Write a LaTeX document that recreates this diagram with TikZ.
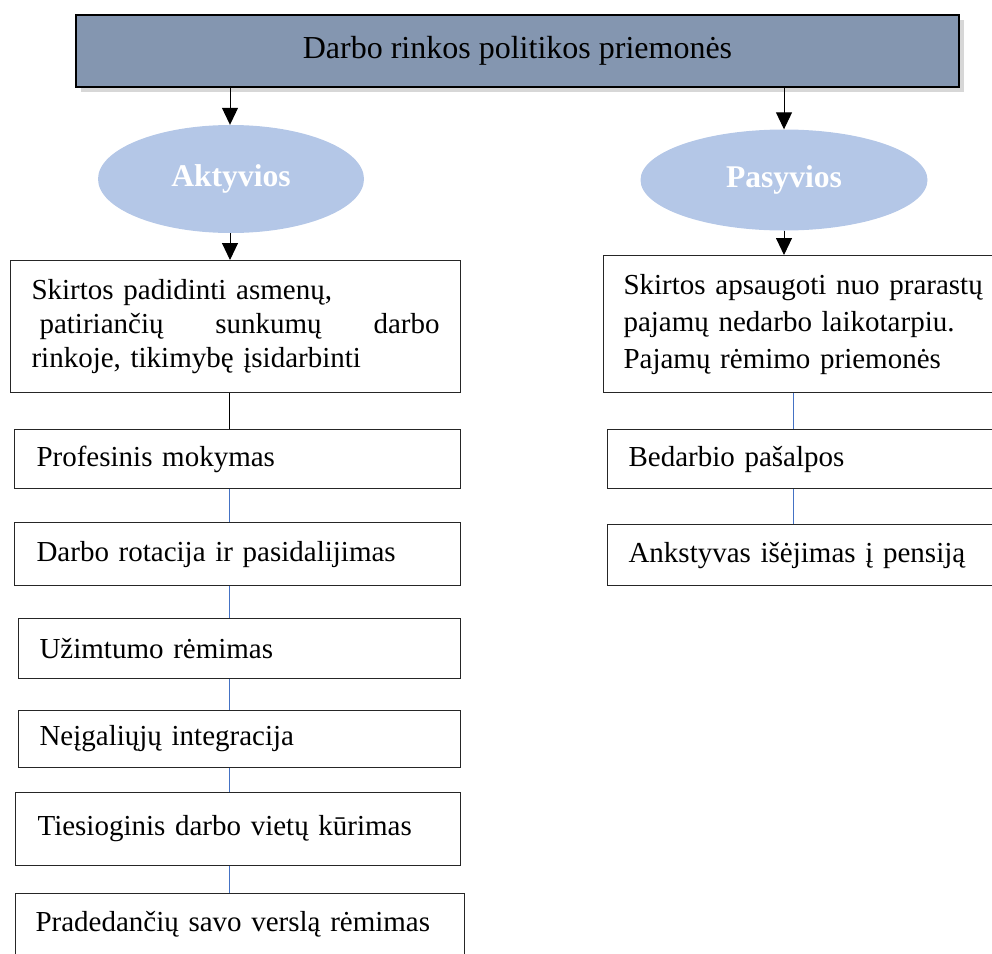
\documentclass[tikz,border=0pt]{standalone}
\usepackage{fontspec}
\setmainfont{Liberation Serif}
\usetikzlibrary{arrows.meta,shapes.geometric,shadows}
\definecolor{topfill}{HTML}{8496B0}
\definecolor{ellfill}{HTML}{B4C7E7}
\definecolor{linkblue}{HTML}{4472C4}
\begin{document}
\begin{tikzpicture}[x=1pt,y=-1pt,
  titlebox/.style={draw=black,line width=1.2pt,fill=topfill,rectangle,
    minimum width=883pt,minimum height=72pt,inner sep=0pt,
    drop shadow={shadow xshift=5pt,shadow yshift=-5pt,fill=black!35,opacity=0.45},
    font=\fontsize{32}{38}\selectfont},
  oval/.style={ellipse,fill=ellfill,draw=none,inner sep=0pt,text=white,
    font=\fontsize{31.6}{36}\selectfont\bfseries},
  item/.style={draw=black!85,line width=1.1pt,rectangle,anchor=north west,
    align=left,inner ysep=0pt,font=\fontsize{29}{34}\selectfont},
  arr/.style={-{Triangle[width=16pt,length=17pt]},line width=1pt,black},
  plain/.style={line width=1pt,black},
  bluelink/.style={line width=1pt,linkblue}]
\useasboundingbox (0,0) rectangle (992,953);

\node[titlebox] (top) at (517.5,51) {Darbo rinkos politikos priemonės};

\node[oval,minimum width=266pt,minimum height=108pt] (akt) at (231,179) {Aktyvios};
\node[oval,minimum width=287pt,minimum height=101pt] (pas) at (784,180) {Pasyvios};

% left column
\node[item,inner xsep=21pt,text width=408pt,minimum height=132pt] (L0) at (10,260)
  {Skirtos padidinti asmenų,\\
   \makebox[408pt][l]{\hspace*{8pt}patiriančių\hfill sunkumų\hfill darbo}\\
   rinkoje, tikimybę įsidarbinti};
\node[item,inner xsep=22pt,text width=402pt,minimum height=59pt] (L1) at (14,429) {Profesinis mokymas};
\node[item,inner xsep=22pt,text width=402pt,minimum height=63pt] (L2) at (14,522) {Darbo rotacija ir pasidalijimas};
\node[item,inner xsep=21pt,text width=400pt,minimum height=60pt] (L3) at (18,618) {Užimtumo rėmimas};
\node[item,inner xsep=21pt,text width=400pt,minimum height=57pt] (L4) at (18,710) {Neįgaliųjų integracija};
\node[item,inner xsep=22pt,text width=401pt,minimum height=73pt] (L5) at (15,792) {Tiesioginis darbo vietų kūrimas};
\node[item,inner xsep=20pt,text width=409pt,minimum height=61pt] (L6) at (15,893) {Pradedančių savo verslą rėmimas};

% right column
\node[item,inner xsep=20pt,text width=380pt,minimum height=137pt,
  font=\fontsize{29}{37}\selectfont] (R0) at (603,255)
  {Skirtos apsaugoti nuo prarastų\\pajamų nedarbo laikotarpiu.\\Pajamų rėmimo priemonės};
\node[item,inner xsep=21pt,text width=380pt,minimum height=59pt] (R1) at (607,429) {Bedarbio pašalpos};
\node[item,inner xsep=21pt,text width=380pt,minimum height=61pt] (R2) at (607,524) {Ankstyvas išėjimas į pensiją};

% connectors
\draw[arr] (top.south -| akt.north) ++(-1,0) coordinate (t1) -- (t1 |- akt.north);
\draw[arr] (top.south -| pas.north) coordinate (t2) -- (pas.north);
\draw[arr] (akt.south) ++(-1,0) coordinate (a1) -- (a1 |- L0.north);
\draw[arr] (pas.south) -- (pas.south |- R0.north);

\coordinate (lx) at (229,0);
\draw[plain] (L0.south -| lx) -- (L1.north -| lx);
\draw[bluelink] (L1.south -| lx) -- (L2.north -| lx);
\draw[bluelink] (L2.south -| lx) -- (L3.north -| lx);
\draw[bluelink] (L3.south -| lx) -- (L4.north -| lx);
\draw[bluelink] (L4.south -| lx) -- (L5.north -| lx);
\draw[bluelink] (L5.south -| lx) -- (L6.north -| lx);

\coordinate (rx) at (793,0);
\draw[bluelink] (R0.south -| rx) -- (R1.north -| rx);
\draw[bluelink] (R1.south -| rx) -- (R2.north -| rx);
\end{tikzpicture}
\end{document}
